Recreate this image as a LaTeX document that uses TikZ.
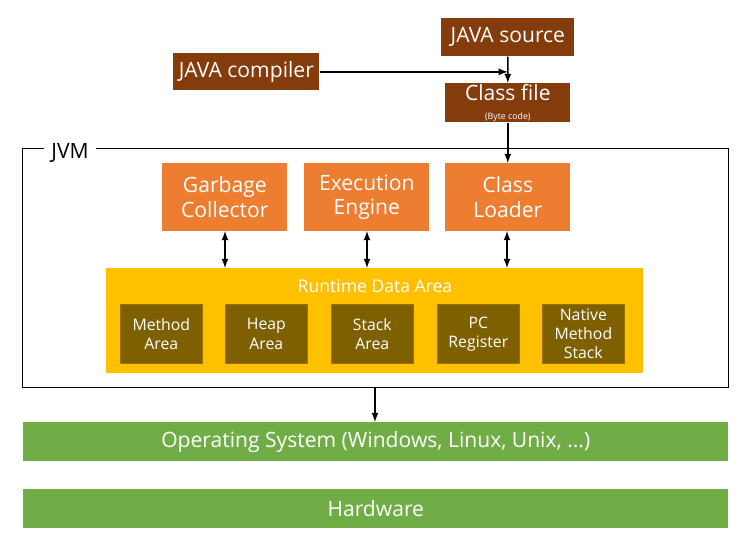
\documentclass[tikz,border=0pt]{standalone}
\usepackage{fontspec}
\setmainfont{Open Sans}
\usetikzlibrary{positioning}
\definecolor{brownbox}{HTML}{843C0C}
\definecolor{orangebox}{HTML}{ED7D31}
\definecolor{goldbox}{HTML}{FFC000}
\definecolor{olivebox}{HTML}{7F6000}
\definecolor{greenbox}{HTML}{70AD47}
\tikzset{
  box/.style={inner sep=0pt, text=white, align=center, anchor=north west},
  src/.style={box, fill=brownbox, font=\large},
  eng/.style={box, fill=orangebox, minimum width=2.5cm, minimum height=1.36cm, font=\large},
  area/.style={box, fill=olivebox, draw=goldbox!60!black, minimum width=1.64cm, minimum height=1.18cm, font=\small},
  osbox/.style={box, fill=greenbox, minimum width=14.1cm, minimum height=0.78cm, font=\large},
  arr/.style={-latex, thick}
}
\begin{document}
\begin{tikzpicture}[x=0.02cm, y=-0.02cm]
	\useasboundingbox (0,0) rectangle (750,547);
	% top
	\node[src, minimum width=2.66cm, minimum height=0.76cm] (source) at (441,18) {JAVA source};
	\node[src, minimum width=2.92cm, minimum height=0.74cm] (compiler) at (173,53) {JAVA compiler};
	\node[src, minimum width=2.5cm, minimum height=0.78cm] (classfile) at (445,83)
	  {Class file\\[-3pt]{\tiny (Byte code)}};
	\draw[arr] (source.south) -- (classfile.north);
	\coordinate (join) at (classfile.north |- compiler.east);
	\draw[arr] (compiler.east) -- (join);

	% JVM
	\draw (22,148) rectangle (728,387);
	\node[fill=white, font=\large, inner sep=4pt] (jvm) at (70,153) {JVM};
	\node[eng] (gc) at (162,163) {Garbage\\Collector};
	\node[eng] (exec) at (304,163) {Execution\\Engine};
	\node[eng] (loader) at (445,163) {Class\\Loader};
	\draw[arr] (classfile.south) -- (loader.north);

	\node[box, fill=goldbox, minimum width=10.74cm, minimum height=2.1cm] (rda) at (106,268) {};
	\node[text=white] (rdalabel) at (375,286) {Runtime Data Area};
	\foreach \x/\name/\txt in {120/method/Method\\Area, 225/heap/Heap\\Area, 331/stack/Stack\\Area,
	  437/pc/PC\\Register, 542/native/Native\\Method\\Stack}
	  \node[area] (\name) at (\x,304) {\txt};
	\foreach \src/\xx in {gc/225, exec/367, loader/507} {
	  \coordinate (top\src) at (\xx,231);
	  \coordinate (bot\src) at (\xx,268);
	  \draw[latex-latex, thick] (top\src) -- (bot\src);
	}

	% OS and hardware
	\node[osbox] (os) at (23,422) {Operating System (Windows, Linux, Unix, ...)};
	\node[osbox] (hw) at (23,489) {Hardware};
	\coordinate (jvmbottom) at (375,387);
	\draw[arr] (jvmbottom) -- (os.north -| jvmbottom);
\end{tikzpicture}
\end{document}
